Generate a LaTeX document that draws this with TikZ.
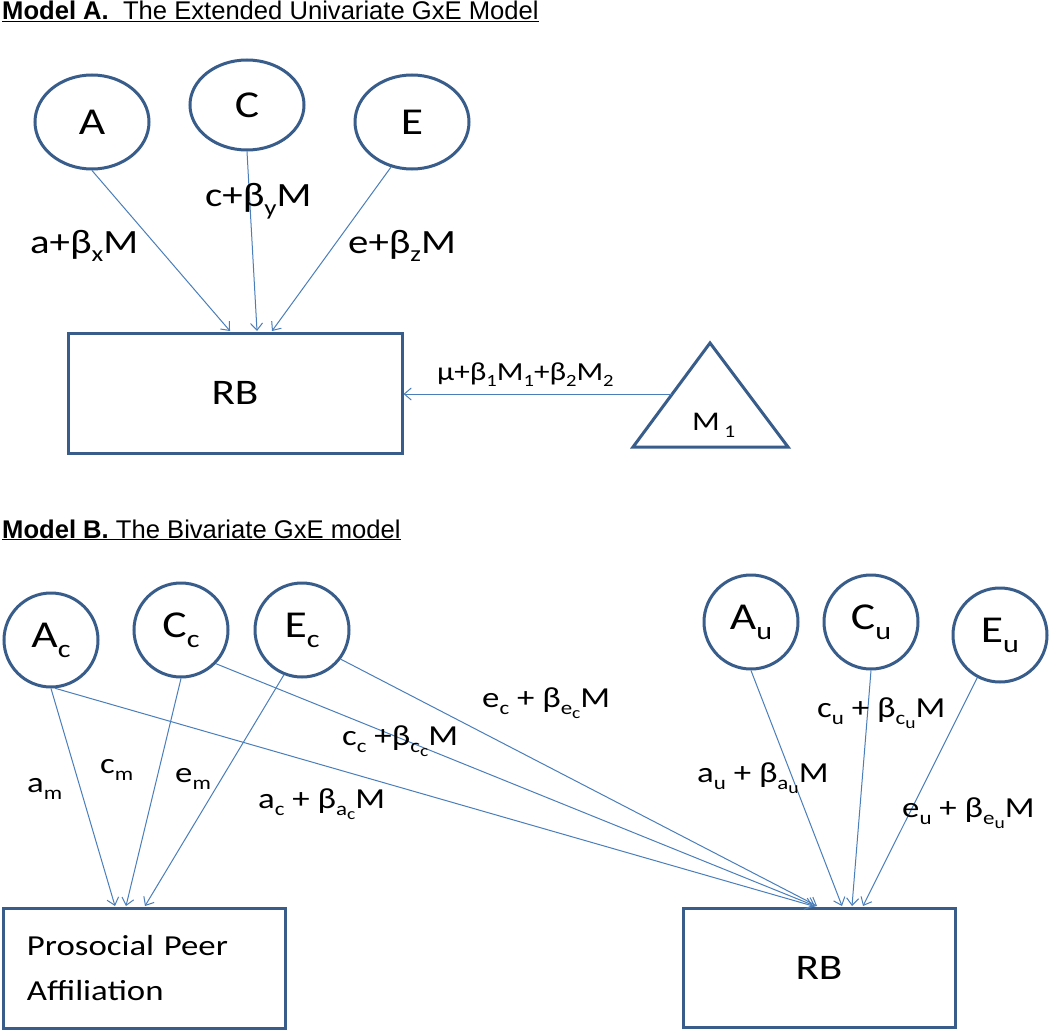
\documentclass[tikz,border=0pt]{standalone}
\usepackage{fontspec}
\setmainfont{Carlito}[FakeStretch=1.2]
\newfontfamily\arialf{Liberation Sans}
\usetikzlibrary{arrows.meta,shapes.geometric}
\definecolor{outl}{HTML}{385D8A}
\definecolor{arrc}{HTML}{4A7EBB}
\newcommand\fs[1]{\fontsize{#1}{#1}\selectfont}
\newcommand\sbx[1]{\raisebox{-0.26em}{\scalebox{0.66}{#1}}}
\newcommand\sbi[1]{\raisebox{-0.22em}{\scalebox{0.85}{#1}}}
\begin{document}
\begin{tikzpicture}[x=1pt,y=-1pt,
  shp/.style={draw=outl, line width=3pt, fill=white, inner sep=0pt},
  ell/.style={shp, ellipse, minimum width=114pt, font=\fs{38}},
  circ/.style={shp, circle, minimum size=94pt, font=\fs{38}},
  boxn/.style={shp, rectangle},
  arr/.style={draw=arrc, line width=1pt, -{Straight Barb[length=7pt,width=12pt]}},
  lab/.style={inner sep=0pt, anchor=base west},
  ttl/.style={inner sep=0pt, anchor=base west, font=\arialf\fs{25.6}}]
\useasboundingbox[fill=white] (0,0) rectangle (1050,1030);

% ---------- Model A ----------
\node[ttl] (titleA) at (2,20) {\underline{\textbf{Model A.}\ \ The Extended Univariate GxE Model}};

\node[ell, minimum height=94pt] (A) at (92,122) {A};
\node[ell, minimum height=90pt] (C) at (247,105) {C};
\node[ell, minimum height=94pt] (E) at (412,122) {E};

\node[boxn, minimum width=334pt, minimum height=120pt, font=\fs{36}] (rbA) at (235,393) {RB};

\draw[draw=outl, line width=3pt, line join=miter] (710,343) -- (788,447) -- (633,447) -- cycle;
\node[lab, font=\fs{27}] (m1) at (692,430) {M\,\sbx{1}};
\coordinate (triL) at (672,394);

\coordinate (tA1) at (230,331);
\coordinate (tA2) at (257,331);
\coordinate (tA3) at (272,331);
\draw[arr] (A.south) -- (tA1);
\draw[arr] (C.south) -- (tA2);
\draw[arr] (E.-115) -- (tA3);
\draw[arr] (triL) -- (rbA.east |- triL);

\node[lab, font=\fs{34}] (la) at (30,253) {a+β\sbx{x}M};
\node[lab, font=\fs{34}] (lc) at (205,207) {c+β\sbx{y}M};
\node[lab, font=\fs{34}] (le) at (348,253) {e+β\sbx{z}M};
\node[lab, font=\fs{26}] (lmu) at (437,380) {μ+β\sbx{1}M\sbx{1}+β\sbx{2}M\sbx{2}};

% ---------- Model B ----------
\node[ttl] (titleB) at (2,538) {\underline{\textbf{Model B.} The Bivariate GxE model}};

\node[circ] (Ac) at (51,640) {A\sbx{c}};
\node[circ] (Cc) at (181,630) {C\sbx{c}};
\node[circ] (Ec) at (302,630) {E\sbx{c}};
\node[circ] (Au) at (751,622) {A\sbx{u}};
\node[circ] (Cu) at (871,622) {C\sbx{u}};
\node[circ] (Eu) at (1000,635) {E\sbx{u}};

\node[boxn, minimum width=282pt, minimum height=120pt, text width=234pt, align=left,
      font=\fontsize{29}{45}\selectfont] (pros) at (144,968) {Prosocial Peer\\Affiliation};
\node[boxn, minimum width=272pt, minimum height=119pt, font=\fs{36}] (rbB) at (819,967.5) {RB};

\coordinate (tP1) at (115,906);
\coordinate (tP2) at (126,906);
\coordinate (tP3) at (145,906);
\coordinate (tR1) at (813,906);
\coordinate (tR2) at (815,906);
\coordinate (tR3) at (817,906);
\coordinate (tR4) at (842,906);
\coordinate (tR5) at (852,906);
\coordinate (tR6) at (863,906);

\draw[arr] (Ac.south) -- (tP1);
\draw[arr] (Cc.south) -- (tP2);
\draw[arr] (Ec.-112) -- (tP3);
\draw[arr] (Ac.-85) -- (tR1);
\draw[arr] (Cc.-44) -- (tR2);
\draw[arr] (Ec.-37) -- (tR3);
\draw[arr] (Au.south) -- (tR4);
\draw[arr] (Cu.south) -- (tR5);
\draw[arr] (Eu.-118) -- (tR6);

\node[lab, font=\fs{29}] (lam) at (27,792) {a\sbx{m}};
\node[lab, font=\fs{29}] (lcm) at (100,773) {c\sbx{m}};
\node[lab, font=\fs{29}] (lem) at (175,782) {e\sbx{m}};
\node[lab, font=\fs{29}] (lac) at (258,808) {a\sbx{c} + β\sbx{a\sbi{c}}M};
\node[lab, font=\fs{29}] (lcc) at (342,745) {c\sbx{c} +β\sbx{c\sbi{c}}M};
\node[lab, font=\fs{29}] (lec) at (482,707) {e\sbx{c} + β\sbx{e\sbi{c}}M};
\node[lab, font=\fs{29}] (lcu) at (817,717) {c\sbx{u} + β\sbx{c\sbi{u}}M};
\node[lab, font=\fs{29}] (lau) at (697,782) {a\sbx{u} + β\sbx{a\sbi{u}}M};
\node[lab, font=\fs{29}] (leu) at (902,817) {e\sbx{u} + β\sbx{e\sbi{u}}M};
\end{tikzpicture}
\end{document}
